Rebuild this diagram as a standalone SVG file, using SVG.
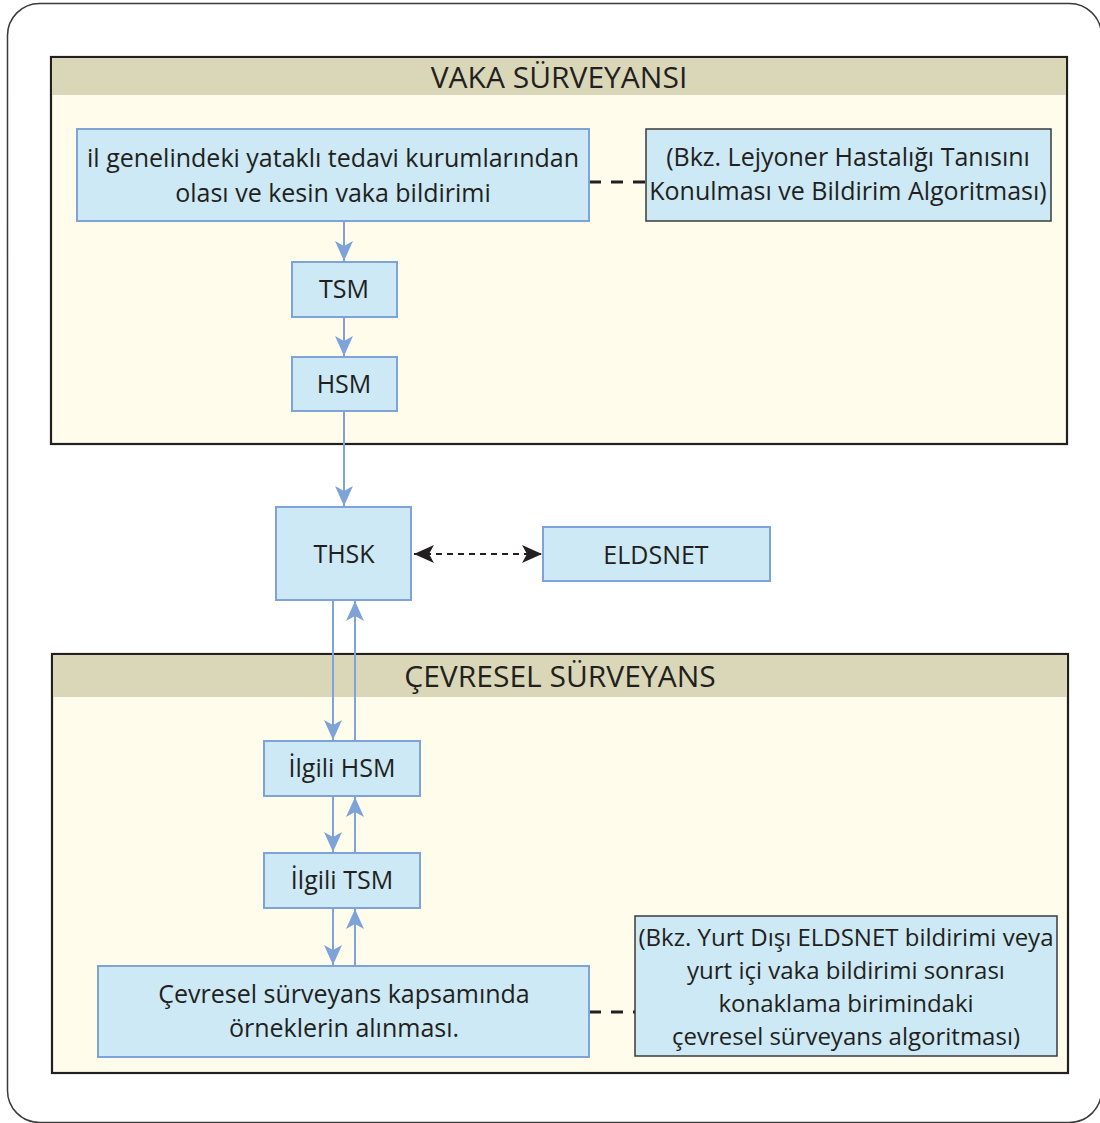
<svg xmlns="http://www.w3.org/2000/svg" width="1100" height="1123" viewBox="0 0 1100 1123">
<style>
text{font-family:"Open Sans","Noto Sans","Liberation Sans",sans-serif;fill:#231f20;text-anchor:middle}
.t{font-size:25px}
.s{font-size:24px}
.h{font-size:30px}
.b{fill:#cde9f5;stroke:#7ea3d8;stroke-width:2}
.n{fill:#cde9f5;stroke:#3a3a3a;stroke-width:1.5}
.panel{fill:#fffcec;stroke:#231f20;stroke-width:2.2}
.band{fill:#dad7b8}
.c{stroke:#7ea3d8;stroke-width:2;fill:none}
.d{stroke:#231f20;stroke-width:3;stroke-dasharray:12,10;fill:none}
</style>
<defs>
<marker id="ab" markerWidth="20" markerHeight="18" viewBox="0 0 20 18" refX="20" refY="9" orient="auto" markerUnits="userSpaceOnUse"><path d="M0,0 L20,9 L0,18 L5,9 Z" fill="#7ea3d8"/></marker>
<marker id="ak" markerWidth="20" markerHeight="18" viewBox="0 0 20 18" refX="20" refY="9" orient="auto-start-reverse" markerUnits="userSpaceOnUse"><path d="M0,0 L20,9 L0,18 L5,9 Z" fill="#231f20"/></marker>
</defs>
<rect x="7.5" y="3.5" width="1094" height="1119" rx="32" fill="#fff" stroke="#3a3a3a" stroke-width="1.5"/>
<g id="vaka-panel">
<rect class="panel" x="51" y="57" width="1016" height="387"/>
<rect class="band" x="52" y="58" width="1014" height="37"/>
<text class="h" x="559" y="88">VAKA SÜRVEYANSI</text>
</g>
<g id="cevre-panel">
<rect class="panel" x="52" y="654" width="1016" height="419"/>
<rect class="band" x="53" y="655" width="1014" height="42"/>
<text class="h" x="560" y="687">ÇEVRESEL SÜRVEYANS</text>
</g>
<g id="connectors">
<line class="c" x1="344" y1="222" x2="344" y2="261" marker-end="url(#ab)"/>
<line class="c" x1="344" y1="318" x2="344" y2="356" marker-end="url(#ab)"/>
<line class="c" x1="344" y1="412" x2="344" y2="506" marker-end="url(#ab)"/>
<line class="c" x1="333" y1="601" x2="333" y2="740" marker-end="url(#ab)"/>
<line class="c" x1="355" y1="740" x2="355" y2="601" marker-end="url(#ab)"/>
<line class="c" x1="333" y1="797" x2="333" y2="852" marker-end="url(#ab)"/>
<line class="c" x1="355" y1="852" x2="355" y2="797" marker-end="url(#ab)"/>
<line class="c" x1="333" y1="909" x2="333" y2="965" marker-end="url(#ab)"/>
<line class="c" x1="355" y1="965" x2="355" y2="909" marker-end="url(#ab)"/>
<line x1="414" y1="554" x2="542" y2="554" stroke="#231f20" stroke-width="2" stroke-dasharray="6,5" marker-start="url(#ak)" marker-end="url(#ak)"/>
<line class="d" x1="589" y1="182" x2="646" y2="182"/>
<line class="d" x1="589" y1="1012" x2="635" y2="1012"/>
</g>
<g id="bildirim">
<rect class="b" x="77" y="129" width="512" height="92"/>
<text class="t" x="333" y="167">il genelindeki yataklı tedavi kurumlarından</text>
<text class="t" x="333" y="202">olası ve kesin vaka bildirimi</text>
</g>
<g id="not1">
<rect class="n" x="646" y="129" width="405" height="92"/>
<text class="t" x="848" y="166">(Bkz. Lejyoner Hastalığı Tanısını</text>
<text class="t" x="848" y="200">Konulması ve Bildirim Algoritması)</text>
</g>
<g id="tsm">
<rect class="b" x="292" y="262" width="105" height="55"/>
<text class="t" x="344" y="298">TSM</text>
</g>
<g id="hsm">
<rect class="b" x="292" y="357" width="105" height="54"/>
<text class="t" x="344" y="393">HSM</text>
</g>
<g id="thsk">
<rect class="b" x="276" y="507" width="135" height="93"/>
<text class="t" x="344" y="563">THSK</text>
</g>
<g id="eldsnet">
<rect class="b" x="543" y="527" width="227" height="54"/>
<text class="t" x="656" y="564">ELDSNET</text>
</g>
<g id="ilgili-hsm">
<rect class="b" x="264" y="741" width="156" height="55"/>
<text class="t" x="342" y="777">İlgili HSM</text>
</g>
<g id="ilgili-tsm">
<rect class="b" x="264" y="853" width="156" height="55"/>
<text class="t" x="342" y="889">İlgili TSM</text>
</g>
<g id="ornek">
<rect class="b" x="98" y="966" width="491" height="91"/>
<text class="t" x="344" y="1003">Çevresel sürveyans kapsamında</text>
<text class="t" x="344" y="1037">örneklerin alınması.</text>
</g>
<g id="not2">
<rect class="n" x="635" y="916" width="422" height="140"/>
<text class="s" x="846" y="946">(Bkz. Yurt Dışı ELDSNET bildirimi veya</text>
<text class="s" x="846" y="979">yurt içi vaka bildirimi sonrası</text>
<text class="s" x="846" y="1012">konaklama birimindaki</text>
<text class="s" x="846" y="1045">çevresel sürveyans algoritması)</text>
</g>
</svg>
